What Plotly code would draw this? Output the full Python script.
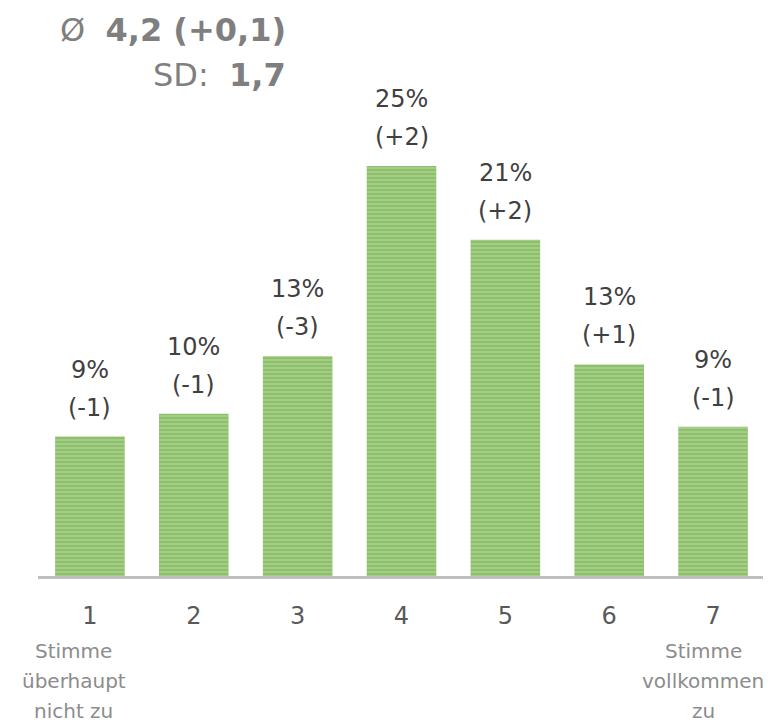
import plotly.graph_objects as go

categories = [1, 2, 3, 4, 5, 6, 7]
tick_labels = ["1", "2", "3", "4", "5", "6", "7"]
values = [8.5, 9.9, 13.4, 25.0, 20.5, 12.9, 9.1]
pct_labels = ["9%", "10%", "13%", "25%", "21%", "13%", "9%"]
diff_labels = ["(-1)", "(-1)", "(-3)", "(+2)", "(+2)", "(+1)", "(-1)"]
low_anchor_lines = ["Stimme", "überhaupt", "nicht zu"]
high_anchor_lines = ["Stimme", "vollkommen", "zu"]
mean_text = "4,2 (+0,1)"
sd_text = "1,7"

FONT = "DejaVu Sans"

fig = go.Figure()
fig.add_trace(go.Bar(
    x=categories, y=values, width=0.67,
    marker=dict(
        color="#B0D596",
        line=dict(width=0),
        pattern=dict(shape="-", fgcolor="#6CAB42", bgcolor="#B0D596",
                     size=4, solidity=0.7, fillmode="overlay"),
    ),
    hoverinfo="skip",
))

ann = []
for c, v, p, d in zip(categories, values, pct_labels, diff_labels):
    ann.append(dict(x=c, y=v, xref="x", yref="y", text=p, showarrow=False,
                    yanchor="middle", yshift=67,
                    font=dict(family=FONT, size=24, color="#404040")))
    ann.append(dict(x=c, y=v, xref="x", yref="y", text=d, showarrow=False,
                    yanchor="middle", yshift=29,
                    font=dict(family=FONT, size=24, color="#404040")))

for lines, c, xs in ((low_anchor_lines, categories[0], -16), (high_anchor_lines, categories[-1], -10)):
    for i, t in enumerate(lines):
        ann.append(dict(x=c, y=0, xref="x", yref="paper", text=t, showarrow=False,
                        yanchor="middle", yshift=-75 - 30 * i, xshift=xs,
                        font=dict(family=FONT, size=20, color="#8C8C8C")))

ann.append(dict(x=0.0275, y=1.11, xref="paper", yref="paper", xanchor="left",
                yanchor="middle", showarrow=False,
                text="Ø  <b>" + mean_text + "</b>",
                font=dict(family=FONT, size=32, color="#7F7F7F")))
ann.append(dict(x=0.3439, y=1.0183, xref="paper", yref="paper", xanchor="right",
                yanchor="middle", showarrow=False,
                text="SD:  <b>" + sd_text + "</b>",
                font=dict(family=FONT, size=32, color="#7F7F7F")))

fig.update_layout(
    width=763, height=717,
    margin=dict(l=30, r=6, t=76, b=149),
    plot_bgcolor="white", paper_bgcolor="white",
    showlegend=False,
    annotations=ann,
    xaxis=dict(range=[0.5, 7.5], tickvals=categories, ticktext=tick_labels,
               showline=True, linecolor="#BFBFBF", linewidth=3,
               ticks="outside", ticklen=16, tickcolor="rgba(0,0,0,0)",
               tickfont=dict(family=FONT, size=24, color="#595959"),
               showgrid=False, zeroline=False, fixedrange=True),
    yaxis=dict(range=[0, 30], visible=False, showgrid=False, zeroline=False),
)

fig.write_html("out.html")
